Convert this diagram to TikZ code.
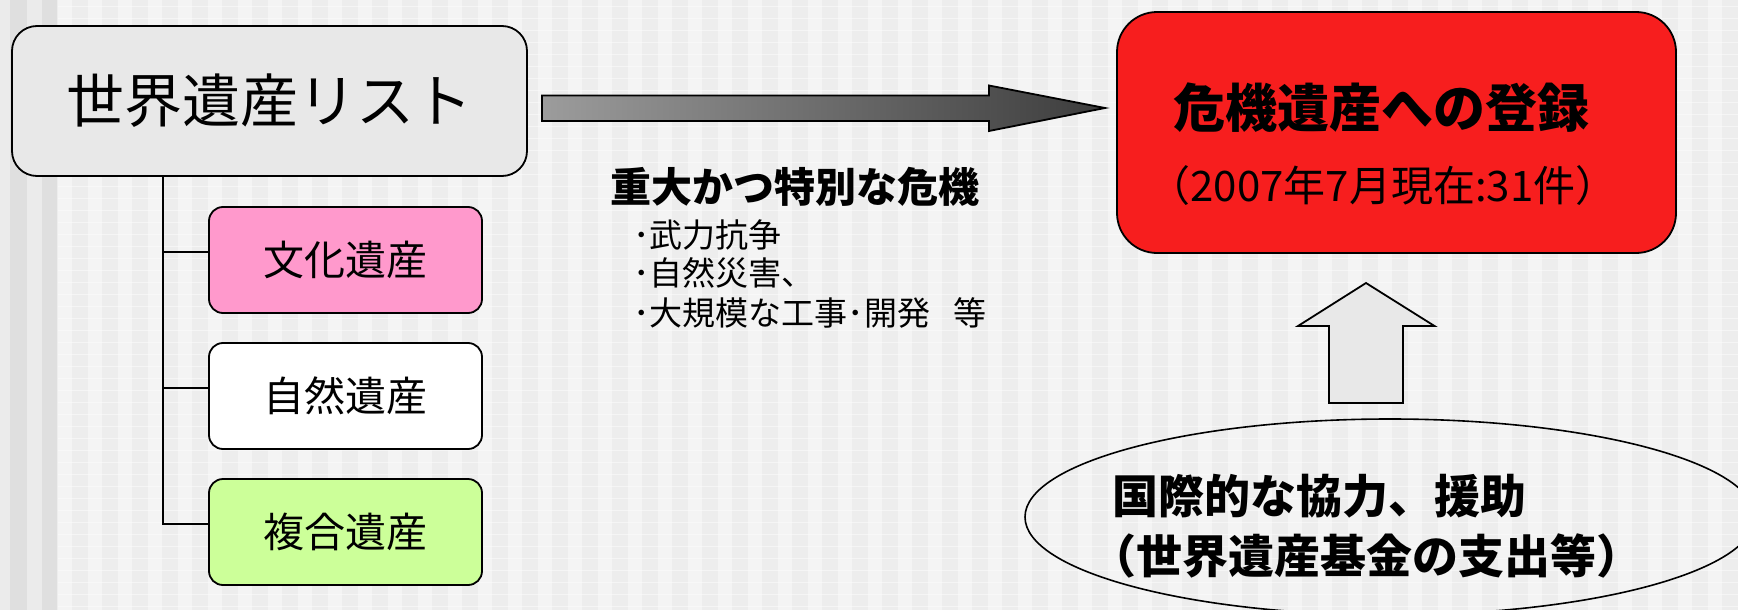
\documentclass[tikz,border=0pt]{standalone}
\usepackage{fontspec}
\setmainfont{Noto Sans CJK JP}
\usetikzlibrary{shapes.geometric}
\definecolor{bgbase}{HTML}{EDEDED}
\definecolor{bglight}{HTML}{F4F4F4}
\definecolor{bandA}{HTML}{EBEBEB}
\definecolor{bandB}{HTML}{DFDFDF}
\definecolor{boxgray}{HTML}{E8E8E8}
\definecolor{pinkbox}{HTML}{FF99CC}
\definecolor{greenbox}{HTML}{CCFF99}
\definecolor{redbox}{HTML}{F71E1E}
\definecolor{arrL}{HTML}{9C9C9C}
\definecolor{arrR}{HTML}{3C3C3C}
\tikzset{
  rbox/.style={draw=black, line width=1.8pt, inner sep=0pt, align=center},
  subbox/.style={rbox, rounded corners=14pt, minimum width=273pt, minimum height=106pt, font=\fontsize{41}{44}\selectfont},
  tree/.style={draw=black, line width=1.6pt},
  bullet/.style={anchor=west, inner sep=0pt, font=\fontsize{33}{36}\selectfont},
  helptext/.style={anchor=west, inner sep=0pt, font=\fontsize{46}{50}\selectfont\bfseries},
}
\begin{document}
\begin{tikzpicture}[x=1pt,y=-1pt]
\useasboundingbox (0,0) rectangle (1738,610);
\clip (0,0) rectangle (1738,610);
% background
\fill[bgbase] (0,0) rectangle (1738,610);
\foreach \x in {58,88,...,1738} {\fill[bglight] (\x,0) rectangle (\x+14,610);}
\foreach \y in {6,18,...,610} {\draw[white, opacity=0.45, line width=0.8pt] (58,\y) -- (1738,\y);}
\fill[bandA] (0,0) rectangle (10,610);
\fill[bandB] (10,0) rectangle (27,610);
\fill[bandA] (27,0) rectangle (42,610);
\fill[bandB] (42,0) rectangle (57,610);

% main list box
\node[rbox, fill=boxgray, rounded corners=25pt, minimum width=515pt, minimum height=150pt,
      font=\fontsize{58}{62}\selectfont] (main) at (269.5,101) {\raisebox{-3pt}{世界遺産リスト}};
% sub boxes
\node[subbox, fill=pinkbox]  (bunka)  at (345.5,260) {文化遺産};
\node[subbox, fill=white]    (shizen) at (345.5,396) {自然遺産};
\node[subbox, fill=greenbox] (fukugo) at (345.5,532) {複合遺産};
% tree connectors
\coordinate (trunk) at (163,176);
\draw[tree] (trunk) |- ([yshift=8pt]fukugo.west);
\draw[tree] (trunk |- 0,252) -- ([yshift=8pt]bunka.west);
\draw[tree] (trunk |- 0,388) -- ([yshift=8pt]shizen.west);

% big gradient arrow
\coordinate (arrtail) at (542,108);
\coordinate (arrtip) at (1105,108);
\shadedraw[left color=arrL, right color=arrR, draw=black, line width=1.8pt, line join=miter]
  (arrtail) ++(0,-12.5) -- ++(447,0) -- ++(0,-10) -- (arrtip) -- ++(-116,23) -- ++(0,-10) -- ++(-447,0) -- cycle;

% crisis text
\node[anchor=west, inner sep=0pt, font=\fontsize{41}{44}\selectfont\bfseries] (crisis) at (610,187) {重大かつ特別な危機};
\node[bullet] (b1) at (633,235) {･武力抗争};
\node[bullet] (b2) at (633,273) {･自然災害、};
\node[bullet] (b3) at (633,313) {･大規模な工事･開発\hspace{0.7em}等};

% red box
\node[rbox, fill=redbox, rounded corners=40pt, minimum width=559pt, minimum height=241pt] (red) at (1396.5,132.5) {};
\node[inner sep=0pt, font=\fontsize{52}{56}\selectfont\bfseries] (redt1) at (1381,108) {危機遺産への登録};
\node[inner sep=0pt, font=\fontsize{42}{46}\selectfont] (redt2) at (1383,186) {（2007年7月現在:31件）};

% up arrow
\coordinate (uptail) at (1366,403);
\coordinate (uptip) at (1366,283);
\filldraw[fill=boxgray, draw=black, line width=1.8pt, line join=miter]
  (uptail) ++(-37,0) -- ++(0,-77) -- ++(-31,0) -- (uptip) -- ++(68.5,43) -- ++(-31.5,0) -- ++(0,77) -- cycle;

% ellipse
\node[ellipse, draw=black, line width=1.6pt, minimum width=730pt, minimum height=196pt, inner sep=0pt] (help) at (1390,517) {};
\node[helptext] (helpt1) at (1112,496) {国際的な協力、援助};
\node[helptext] (helpt2) at (1090,556) {（世界遺産基金の支出等）};
\end{tikzpicture}
\end{document}
